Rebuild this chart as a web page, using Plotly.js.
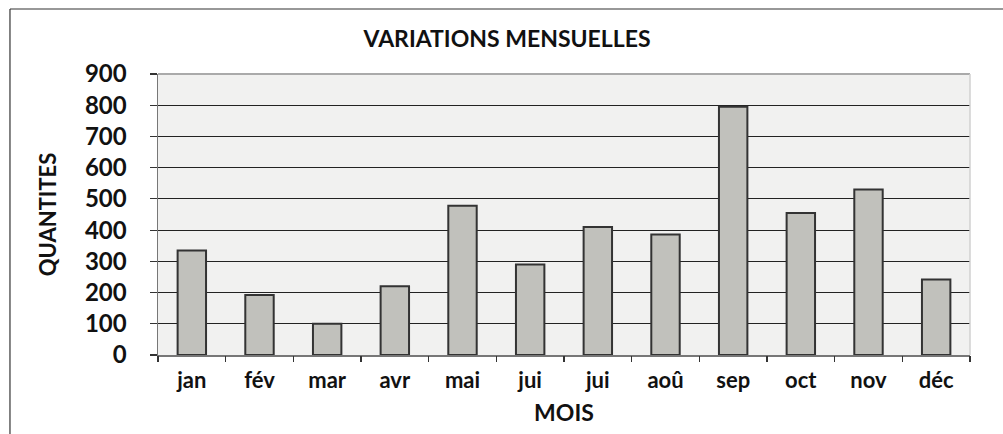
<!DOCTYPE html>
<html>
<head>
<meta charset="utf-8">
<script src="https://cdn.plot.ly/plotly-3.0.1.min.js"></script>
<style>html,body{margin:0;padding:0;background:#fff;}#chart{width:1003px;height:434px;}</style>
</head>
<body>
<div id="chart"></div>
<script>
const months = ["jan","fév","mar","avr","mai","jui","jui","aoû","sep","oct","nov","déc"];
const quantites = [335, 192, 100, 220, 478, 290, 410, 386, 795, 455, 530, 242];
const yTicks = [0,100,200,300,400,500,600,700,800,900];

const positions = months.map((m,i)=>i);
const boundaries = months.concat(["end"]).map((m,i)=>i-0.5);
const FONT = "Lato, 'Open Sans', sans-serif";

const trace = {
  type: "bar",
  x: positions,
  y: quantites,
  marker: {color: "#c1c1bc", line: {color: "#333333", width: 2}},
  hoverinfo: "skip"
};
const tickTrace = {type:"scatter", x:[positions[0]], y:[0], xaxis:"x2", mode:"markers", marker:{opacity:0}, hoverinfo:"skip", showlegend:false};

const layout = {
  width: 1003, height: 434,
  margin: {l:158, r:33, t:74, b:79},
  paper_bgcolor: "#ffffff",
  plot_bgcolor: "#f1f1f0",
  showlegend: false,
  bargap: 0.58,
  title: {text: "<b>VARIATIONS MENSUELLES</b>", x: 0.5055, xref: "container", y: 0.910, yref: "container", yanchor: "middle", xanchor: "center",
          font: {family: FONT, size: 23, color: "#111"}},
  xaxis: {
    range: [-0.5, 11.5], tickmode: "array", tickvals: positions, ticktext: months.map(m=>"<b>"+m+"</b>"),
    ticks: "", showgrid: false, zeroline: false, showline: true, linecolor: "#777", linewidth: 1.5,
    tickfont: {family: FONT, size: 22, color: "#111"}, ticklabelstandoff: 5,
    title: {text: "<b>MOIS</b>", font: {family: FONT, size: 23, color: "#111"}, standoff: 13}
  },
  xaxis2: {
    overlaying: "x", matches: "x", range: [-0.5, 11.5], tickmode: "array", tickvals: boundaries,
    showticklabels: false, ticks: "outside", ticklen: 6, tickcolor: "#333", tickwidth: 1.2,
    showgrid: false, zeroline: false, showline: false, side: "bottom"
  },
  yaxis: {
    range: [0, 900], tickmode: "array", tickvals: yTicks, ticktext: yTicks.map(v=>"<b>"+v+"</b>"),
    ticks: "outside", ticklen: 7, tickcolor: "#333", tickwidth: 1.2,
    showgrid: true, gridcolor: "#222", gridwidth: 1, zeroline: false,
    showline: true, linecolor: "#777", linewidth: 1.5,
    tickfont: {family: FONT, size: 24, color: "#111"}, ticklabelstandoff: 18,
    title: {text: "<b>QUANTITES</b>", font: {family: FONT, size: 22, color: "#111"}, standoff: 22}
  },
  shapes: [
    {type:"line", xref:"paper", yref:"paper", x0:0, x1:1, y0:1, y1:1, line:{color:"#aaaaaa", width:2}},
    {type:"line", xref:"paper", yref:"paper", x0:1, x1:1, y0:0, y1:1, line:{color:"#d0d0d0", width:1.5}},
    {type:"line", xref:"paper", yref:"paper", x0:-0.1823, x1:1.05, y0:1.2313, y1:1.2313, line:{color:"#333", width:1.2}},
    {type:"line", xref:"paper", yref:"paper", x0:-0.1823, x1:-0.1823, y0:1.2313, y1:-0.3, line:{color:"#333", width:1.2}}
  ]
};

Plotly.newPlot("chart", [trace, tickTrace], layout, {displayModeBar:false, staticPlot:true});
</script>
</body>
</html>
